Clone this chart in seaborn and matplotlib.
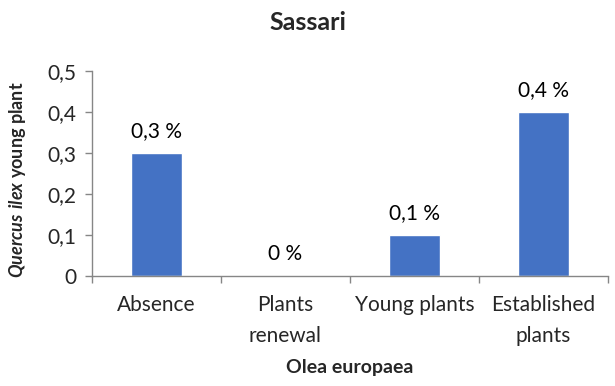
import matplotlib
matplotlib.use("Agg")
import matplotlib.pyplot as plt
import seaborn as sns
import pandas as pd
from matplotlib.ticker import FuncFormatter

categories = ["Absence", "Plants\nrenewal", "Young plants", "Established\nplants"]
values = [0.3, 0.0, 0.1, 0.4]
value_labels = ["0,3 %", "0 %", "0,1 %", "0,4 %"]
y_ticks = [0, 0.1, 0.2, 0.3, 0.4, 0.5]

sns.set_theme(style="white")
plt.rcParams["font.family"] = ["Lato", "DejaVu Sans"]
plt.rcParams["mathtext.fontset"] = "custom"
plt.rcParams["mathtext.bfit"] = "Lato:italic:bold"
plt.rcParams["mathtext.bf"] = "Lato:bold"
plt.rcParams["mathtext.rm"] = "Lato"

df = pd.DataFrame({"category": categories, "value": values})

fig = plt.figure(figsize=(6.15, 3.86), dpi=100)
ax = fig.add_axes([0.1496, 0.285, 0.8390, 0.531])

sns.barplot(data=df, x="category", y="value", color="#4472C4", width=0.4,
            saturation=1, ax=ax)

ax.set_xlim(-0.5, 3.5)
ax.set_ylim(0, 0.5)
ax.set_yticks(y_ticks)
ax.yaxis.set_major_formatter(FuncFormatter(
    lambda v, _: "0" if v == 0 else f"{v:.1f}".replace(".", ",")))

for i, (v, lab) in enumerate(zip(values, value_labels)):
    ax.annotate(lab, (i, v), xytext=(0, 8.5), textcoords="offset points",
                ha="center", va="bottom", fontsize=15, color="#000000")

grey = "#868686"
for side in ["top", "right"]:
    ax.spines[side].set_visible(False)
for side in ["left", "bottom"]:
    ax.spines[side].set_color(grey)
    ax.spines[side].set_linewidth(1.0)

# category boundaries carry the x tick marks
ax.set_xticks([-0.5, 0.5, 1.5, 2.5, 3.5], minor=False)
ax.set_xticklabels([])
ax.set_xticks([0, 1, 2, 3], minor=True)
ax.set_xticklabels(categories, minor=True, fontsize=15, linespacing=1.65)
ax.tick_params(axis="x", which="major", length=5, color=grey, width=1,
               direction="out", bottom=True)
ax.tick_params(axis="x", which="minor", length=0, pad=14, bottom=True)
ax.tick_params(axis="y", length=5, color=grey, width=1, direction="out",
               left=True, labelsize=15, pad=6)
for t in ax.get_xticklabels(minor=True):
    t.set_verticalalignment("top")

ax.set_xlabel("Olea europaea", fontsize=14, fontweight="bold")
ax.xaxis.set_label_coords(0.5, -0.447)
ax.xaxis.label.set_verticalalignment("center")
ax.set_ylabel(r"$\mathbfit{Quercus\ ilex}$ young plant", fontsize=13,
              fontweight="bold")
ax.yaxis.set_label_coords(-0.145, 0.47)
ax.yaxis.label.set_verticalalignment("center")

fig.text(0.5, 1 - 22 / 386, "Sassari", fontsize=18, fontweight="bold",
         ha="center", va="center")

fig.savefig("out.png", dpi=100)
